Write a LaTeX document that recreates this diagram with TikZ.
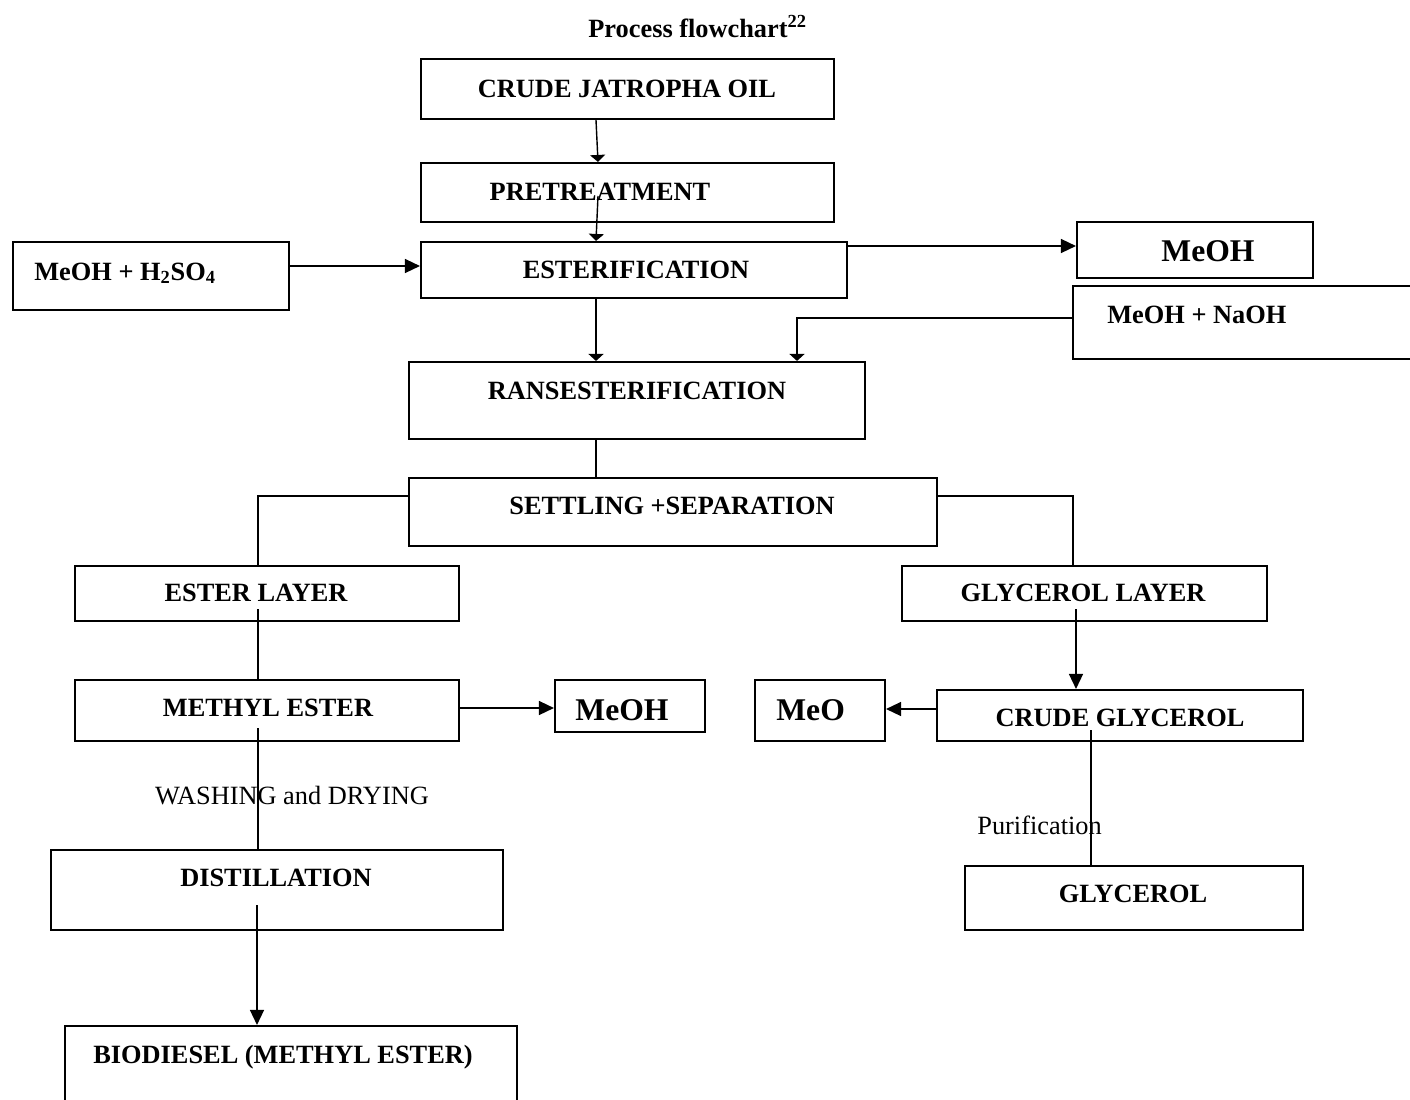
\documentclass[tikz,border=0pt]{standalone}
\usepackage{fontspec}
\setmainfont{Liberation Serif}
\usetikzlibrary{arrows.meta,fit}

\tikzset{
  box/.style={draw, line width=1.2pt, inner sep=0pt},
  txt/.style={font=\fontsize{15}{18}\selectfont\bfseries, inner sep=0pt, anchor=base},
  bigtxt/.style={font=\fontsize{18}{21}\selectfont\bfseries, inner sep=0pt, anchor=base},
  plain/.style={font=\fontsize{15}{18}\selectfont, inner sep=0pt, anchor=base},
  flow/.style={line width=0.8pt},
  arr/.style={flow, -{Triangle[length=0.3cm,width=0.28cm]}},
  sarr/.style={flow, -{Triangle[length=0.14cm,width=0.3cm]}}
}

\begin{document}
\begin{tikzpicture}[x=0.02cm, y=-0.02cm]
\useasboundingbox (0,0) rectangle (1410,1099);
\fill[white] (0,0) rectangle (1410,1099);

% boxes
\node[box, fit={(421,59) (834,119)}] (oil) {};
\node[box, fit={(421,163) (834,222)}] (pre) {};
\node[box, fit={(421,242) (847,298)}] (ester) {};
\node[box, fit={(13,242) (289,310)}] (acid) {};
\node[box, fit={(1077,222) (1313,278)}] (meoha) {};
\node[box, fit={(1073,286) (1430,359)}] (naoh) {};
\node[box, fit={(409,362) (865,439)}] (trans) {};
\node[box, fit={(409,478) (937,546)}] (settle) {};
\node[box, fit={(75,566) (459,621)}] (esterlay) {};
\node[box, fit={(902,566) (1267,621)}] (glylay) {};
\node[box, fit={(75,680) (459,741)}] (methyl) {};
\node[box, fit={(555,680) (705,732)}] (meohb) {};
\node[box, fit={(755,680) (885,741)}] (meo) {};
\node[box, fit={(937,690) (1303,741)}] (crudegly) {};
\node[box, fit={(965,866) (1303,930)}] (gly) {};
\node[box, fit={(51,850) (503,930)}] (dist) {};
\node[box, fit={(65,1026) (517,1130)}] (bio) {};

% free ends inside boxes
\coordinate (premid) at (598,196);
\coordinate (elmid) at (258,609);
\coordinate (memid) at (258,728);
\coordinate (distmid) at (257,905);
\coordinate (glmid) at (1076,609);
\coordinate (cgmid) at (1091,730);

% connectors
\draw[sarr] (oil.south -| 596,0) -- (pre.north -| 598,0);
\draw[sarr] (premid) -- (ester.north -| 596,0);
\draw[arr] (acid.east |- 0,266) -- (ester.west |- 0,266);
\draw[arr] (ester.east |- 0,246) -- (meoha.west |- 0,246);
\draw[sarr] (ester.south -| 596,0) -- (trans.north -| 596,0);
\draw[sarr] (naoh.west |- 0,318) -| (trans.north -| 797,0);
\draw[flow] (trans.south -| 596,0) -- (settle.north -| 596,0);
\draw[flow] (settle.west |- 0,496) -| (esterlay.north -| 258,0);
\draw[flow] (settle.east |- 0,496) -| (glylay.north -| 1073,0);
\draw[flow] (elmid) -- (methyl.north -| 258,0);
\draw[arr] (methyl.east |- 0,708) -- (meohb.west |- 0,708);
\draw[flow] (memid) -- (dist.north -| 258,0);
\draw[arr] (distmid) -- (bio.north -| 257,0);
\draw[arr] (glmid) -- (crudegly.north -| 1076,0);
\draw[arr] (crudegly.west |- 0,709) -- (meo.east |- 0,709);
\draw[flow] (cgmid) -- (gly.north -| 1091,0);

% texts
\node[txt, anchor=base west] (title) at (588,37) {Process flowchart\textsuperscript{22}};
\node[txt] (oiltxt) at (627,97) {CRUDE JATROPHA OIL};
\node[txt] (pretxt) at (600,200) {PRETREATMENT};
\node[txt] (estertxt) at (636,278) {ESTERIFICATION};
\node[txt, anchor=base west] (acidtxt) at (34,280) {MeOH + H\textsubscript{2}SO\textsubscript{4}};
\node[bigtxt] (meohatxt) at (1208,261) {MeOH};
\node[txt, anchor=base west] (naohtxt) at (1107,323) {MeOH + NaOH};
\node[txt] (transtxt) at (637,399) {RANSESTERIFICATION};
\node[txt] (settletxt) at (672,514) {SETTLING +SEPARATION};
\node[txt] (esterlaytxt) at (256,601) {ESTER LAYER};
\node[txt] (glylaytxt) at (1083,601) {GLYCEROL LAYER};
\node[txt] (methyltxt) at (268,716) {METHYL ESTER};
\node[bigtxt] (meohbtxt) at (622,720) {MeOH};
\node[bigtxt, anchor=base west] (meotxt) at (776,720) {MeO};
\node[txt] (crudeglytxt) at (1120,726) {CRUDE GLYCEROL};
\node[plain] (washtxt) at (292,804) {WASHING and DRYING};
\node[plain, anchor=base west] (purtxt) at (977,834) {Purification};
\node[txt] (disttxt) at (276,886) {DISTILLATION};
\node[txt] (glytxt) at (1133,902) {GLYCEROL};
\node[txt] (biotxt) at (283,1063) {BIODIESEL (METHYL ESTER)};
\end{tikzpicture}
\end{document}
